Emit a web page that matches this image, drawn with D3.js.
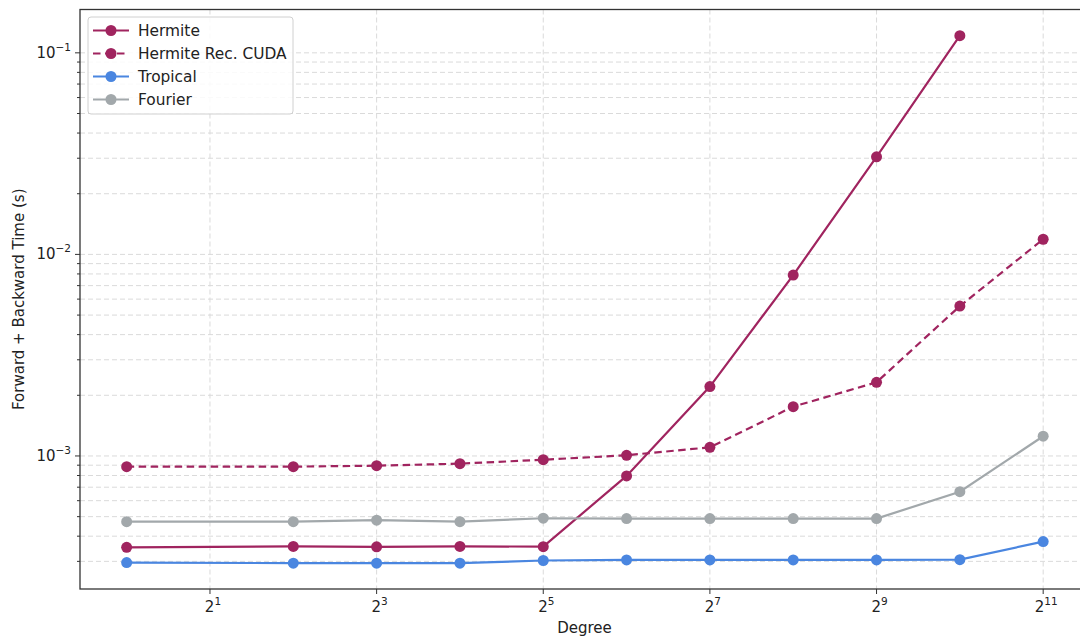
<!DOCTYPE html>
<html>
<head>
<meta charset="utf-8">
<script src="https://cdn.jsdelivr.net/npm/d3@7"></script>
<style>
  body { margin: 0; background: #fff; }
  svg { display: block; font-family: "DejaVu Sans", sans-serif; }
</style>
</head>
<body>
<div id="wrapper"></div>
<script>
// degrees (x values), first point is 2^0 then 2^2 ... 2^11
const degrees = [1, 4, 8, 16, 32, 64, 128, 256, 512, 1024, 2048]

const hermite = [3.52e-4, 3.56e-4, 3.54e-4, 3.56e-4, 3.55e-4, 7.96e-4, 2.21e-3, 7.9e-3, 0.0305, 0.1216]
const hermiteCuda = [8.85e-4, 8.85e-4, 8.95e-4, 9.16e-4, 9.58e-4, 1.008e-3, 1.104e-3, 1.757e-3, 2.32e-3, 5.54e-3, 0.01189]
const tropical = [2.96e-4, 2.94e-4, 2.94e-4, 2.94e-4, 3.03e-4, 3.05e-4, 3.05e-4, 3.05e-4, 3.05e-4, 3.06e-4, 3.76e-4]
const fourier = [4.72e-4, 4.72e-4, 4.80e-4, 4.72e-4, 4.91e-4, 4.89e-4, 4.89e-4, 4.89e-4, 4.89e-4, 6.65e-4, 1.253e-3]

const seriesNames = ["Hermite", "Hermite Rec. CUDA", "Tropical", "Fourier"]
const seriesValues = [hermite, hermiteCuda, tropical, fourier]
const seriesColors = ["#a0245f", "#a0245f", "#4a86e0", "#a2a8ab"]
const seriesDash = [null, "7.5,4.5", null, null]

const xTickExps = [1, 3, 5, 7, 9, 11]
const yTickExps = [-3, -2, -1]

const width = 1080
const height = 637
const margin = { top: 9.5, left: 80, bottom: 589, right: 1089 }

const svg = d3.select("#wrapper").append("svg")
  .attr("width", width)
  .attr("height", height)

const xScale = d3.scaleLog().base(2)
  .domain([Math.pow(2, -0.56), Math.pow(2, 11.55)])
  .range([margin.left, margin.right])

const yScale = d3.scaleLog()
  .domain([Math.pow(10, -3.66), Math.pow(10, -0.785)])
  .range([margin.bottom, margin.top])

svg.append("clipPath").attr("id", "plotclip")
  .append("rect")
  .attr("x", margin.left).attr("y", margin.top)
  .attr("width", margin.right - margin.left)
  .attr("height", margin.bottom - margin.top)

// grid - horizontal at every log tick, vertical at labelled x ticks
const yTicksAll = yScale.ticks()
const grid = svg.append("g").attr("clip-path", "url(#plotclip)")
grid.selectAll(".hgrid")
  .data(yTicksAll)
  .join("line")
  .attr("x1", margin.left).attr("x2", margin.right)
  .attr("y1", d => yScale(d)).attr("y2", d => yScale(d))
  .attr("stroke", "#dadada")
  .attr("stroke-width", 1)
  .attr("stroke-dasharray", "5,3")

grid.selectAll(".vgrid")
  .data(xTickExps)
  .join("line")
  .attr("x1", d => xScale(Math.pow(2, d))).attr("x2", d => xScale(Math.pow(2, d)))
  .attr("y1", margin.top).attr("y2", margin.bottom)
  .attr("stroke", "#dadada")
  .attr("stroke-width", 1)
  .attr("stroke-dasharray", "5,3")

// series
const line = d3.line()
  .x((d, i) => xScale(degrees[i]))
  .y(d => yScale(d))

const plot = svg.append("g").attr("clip-path", "url(#plotclip)")
seriesValues.forEach((vals, s) => {
  plot.append("path")
    .datum(vals)
    .attr("d", line)
    .attr("fill", "none")
    .attr("stroke", seriesColors[s])
    .attr("stroke-width", 2.2)
    .attr("stroke-dasharray", seriesDash[s])

  plot.selectAll(".pt" + s)
    .data(vals)
    .join("circle")
    .attr("cx", (d, i) => xScale(degrees[i]))
    .attr("cy", d => yScale(d))
    .attr("r", 5.5)
    .attr("fill", seriesColors[s])
})

// axes frame (right spine falls off the canvas)
svg.append("rect")
  .attr("x", margin.left).attr("y", margin.top)
  .attr("width", margin.right - margin.left)
  .attr("height", margin.bottom - margin.top)
  .attr("fill", "none")
  .attr("stroke", "#333")
  .attr("stroke-width", 1.3)

// y ticks, longer for the decades
svg.selectAll(".ytick")
  .data(yTicksAll)
  .join("line")
  .attr("x1", d => margin.left - (Math.abs(Math.log10(d) - Math.round(Math.log10(d))) < 1e-6 ? 5 : 3))
  .attr("x2", margin.left)
  .attr("y1", d => yScale(d)).attr("y2", d => yScale(d))
  .attr("stroke", "#333")
  .attr("stroke-width", 1)

const yLabels = svg.selectAll(".ylab")
  .data(yTickExps)
  .join("text")
  .attr("x", margin.left - 9)
  .attr("y", d => yScale(Math.pow(10, d)) + 5)
  .attr("text-anchor", "end")
  .style("font-size", "15px")
  .attr("fill", "#222")
yLabels.append("tspan").text("10")
yLabels.append("tspan")
  .attr("dy", -7)
  .style("font-size", "10.5px")
  .text(d => "\u2212" + Math.abs(d))

// x ticks
svg.selectAll(".xtick")
  .data(xTickExps)
  .join("line")
  .attr("x1", d => xScale(Math.pow(2, d))).attr("x2", d => xScale(Math.pow(2, d)))
  .attr("y1", margin.bottom).attr("y2", margin.bottom + 5)
  .attr("stroke", "#333")
  .attr("stroke-width", 1)

const xLabels = svg.selectAll(".xlab")
  .data(xTickExps)
  .join("text")
  .attr("x", d => xScale(Math.pow(2, d)) + 3)
  .attr("y", margin.bottom + 23)
  .attr("text-anchor", "middle")
  .style("font-size", "15px")
  .attr("fill", "#222")
xLabels.append("tspan").text("2")
xLabels.append("tspan")
  .attr("dy", -7)
  .style("font-size", "10.5px")
  .text(d => d)

// axis titles
svg.append("text")
  .attr("x", (margin.left + margin.right) / 2)
  .attr("y", 633)
  .attr("text-anchor", "middle")
  .style("font-size", "15px")
  .attr("fill", "#222")
  .text("Degree")

svg.append("text")
  .attr("transform", `translate(24, ${(margin.top + margin.bottom) / 2}) rotate(-90)`)
  .attr("text-anchor", "middle")
  .style("font-size", "15px")
  .attr("fill", "#222")
  .text("Forward + Backward Time (s)")

// legend
const legend = svg.append("g")
legend.append("rect")
  .attr("x", 88).attr("y", 17)
  .attr("width", 205).attr("height", 97)
  .attr("rx", 3)
  .attr("fill", "#fff").attr("fill-opacity", 0.85)
  .attr("stroke", "#d0d0d0")

const items = legend.selectAll(".item")
  .data(seriesNames)
  .join("g")
  .attr("transform", (d, i) => `translate(0, ${30.5 + i * 23})`)
items.append("line")
  .attr("x1", 93).attr("x2", 129)
  .attr("stroke", (d, i) => seriesColors[i])
  .attr("stroke-width", 2.2)
  .attr("stroke-dasharray", (d, i) => seriesDash[i])
items.append("circle")
  .attr("cx", 111).attr("r", 5.5)
  .attr("fill", (d, i) => seriesColors[i])
items.append("text")
  .attr("x", 138).attr("y", 5.5)
  .style("font-size", "15.4px")
  .attr("fill", "#222")
  .text(d => d)
</script>
</body>
</html>
